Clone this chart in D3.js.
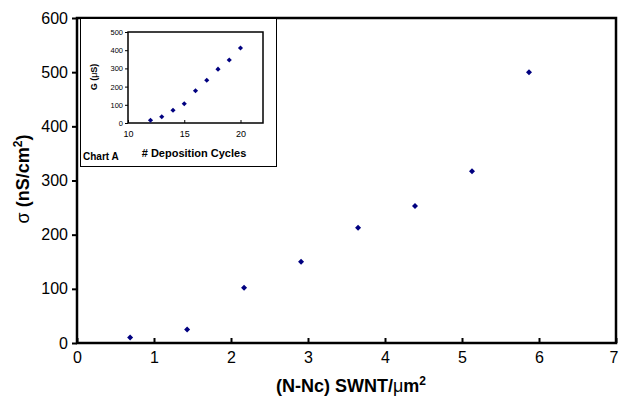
<!DOCTYPE html>
<meta charset="utf-8">
<script src="https://d3js.org/d3.v7.min.js"></script>
<style>
  body { margin: 0; background: #fff; }
  text { font-family: "Liberation Sans", Arial, sans-serif; }
</style>
<div id="chart"></div>
<script>
// main chart data
var density = [0.69, 1.43, 2.17, 2.91, 3.65, 4.39, 5.13, 5.87];
var sigma = [10, 25, 102, 150, 213, 253, 317, 500];
var xTicks = [0, 1, 2, 3, 4, 5, 6, 7];
var yTicks = [0, 100, 200, 300, 400, 500, 600];

// inset (Chart A) data
var cycles = [12, 13, 14, 15, 16, 17, 18, 19, 20];
var conductance = [15, 34, 70, 106, 177, 235, 296, 346, 412];
var insetXTicks = [10, 15, 20];
var insetYTicks = [0, 100, 200, 300, 400, 500];

var W = 619, H = 398;
var svg = d3.select("#chart").append("svg").attr("width", W).attr("height", H);

var x = d3.scaleLinear().domain([0, 7]).range([77, 616]);
var y = d3.scaleLinear().domain([0, 600]).range([343, 18]);

// x axis, ticks pointing up
var gx = svg.append("g").attr("transform", "translate(0," + y(0) + ")")
  .call(d3.axisBottom(x).tickValues(xTicks).tickSize(-5).tickPadding(9).tickFormat(d3.format("d")));
gx.select(".domain").remove();
gx.selectAll(".tick line").attr("stroke", "#000").attr("stroke-width", 2);
gx.selectAll("text").attr("font-size", 16).attr("fill", "#000");
// last label sits flush with the frame, as in the original
gx.selectAll("text").filter(function(d) { return d === 7; })
  .attr("text-anchor", "end").attr("x", 2);

// y axis, ticks pointing left
var gy = svg.append("g").attr("transform", "translate(" + x(0) + ",0)")
  .call(d3.axisLeft(y).tickValues(yTicks).tickSize(5).tickPadding(4));
gy.select(".domain").remove();
gy.selectAll(".tick line").attr("stroke", "#000").attr("stroke-width", 2);
gy.selectAll("text").attr("font-size", 16).attr("fill", "#000");

// plot frame
svg.append("rect")
  .attr("x", x(0)).attr("y", y(600))
  .attr("width", x(7) - x(0)).attr("height", y(0) - y(600))
  .attr("fill", "none").attr("stroke", "#000").attr("stroke-width", 2.5);

var marker = d3.symbol().type(d3.symbolSquare).size(18);

svg.selectAll(".pt").data(density).enter().append("path")
  .attr("class", "pt")
  .attr("d", marker)
  .attr("transform", function(d, i) { return "translate(" + x(d) + "," + y(sigma[i]) + ") rotate(45)"; })
  .attr("fill", "#000080");

// axis titles
svg.append("text")
  .attr("x", 351).attr("y", 392)
  .attr("text-anchor", "middle").attr("font-size", 18).attr("font-weight", "bold")
  .html('(N-Nc) SWNT/<tspan font-weight="normal">\u03bc</tspan>m<tspan dy="-7" font-size="12">2</tspan>');

svg.append("text")
  .attr("transform", "translate(29,179) rotate(-90)")
  .attr("text-anchor", "middle").attr("font-size", 18).attr("font-weight", "bold")
  .html('<tspan font-weight="normal">\u03c3</tspan> (nS/cm<tspan dy="-7" font-size="12">2</tspan><tspan dy="7">)</tspan>');

// ---- inset ----
svg.append("rect")
  .attr("x", 80.5).attr("y", 18.5).attr("width", 196).attr("height", 148)
  .attr("fill", "#fff").attr("stroke", "#000").attr("stroke-width", 1);

var ix = d3.scaleLinear().domain([10, 22]).range([128, 263]);
var iy = d3.scaleLinear().domain([0, 500]).range([123, 32]);

var igx = svg.append("g").attr("transform", "translate(0," + iy(0) + ")")
  .call(d3.axisBottom(ix).tickValues(insetXTicks).tickSize(-3).tickPadding(8));
igx.select(".domain").remove();
igx.selectAll(".tick line").attr("stroke", "#000");
igx.selectAll("text").attr("font-size", 9).attr("fill", "#000");

var igy = svg.append("g").attr("transform", "translate(" + ix(10) + ",0)")
  .call(d3.axisLeft(iy).tickValues(insetYTicks).tickSize(3).tickPadding(2));
igy.select(".domain").remove();
igy.selectAll(".tick line").attr("stroke", "#000");
igy.selectAll("text").attr("font-size", 7.5).attr("fill", "#000");

svg.append("rect")
  .attr("x", ix(10)).attr("y", iy(500))
  .attr("width", ix(22) - ix(10)).attr("height", iy(0) - iy(500))
  .attr("fill", "none").attr("stroke", "#000").attr("stroke-width", 1.5);

svg.selectAll(".ipt").data(cycles).enter().append("path")
  .attr("class", "ipt")
  .attr("d", d3.symbol().type(d3.symbolSquare).size(13))
  .attr("transform", function(d, i) { return "translate(" + ix(d) + "," + iy(conductance[i]) + ") rotate(45)"; })
  .attr("fill", "#000080");

svg.append("text")
  .attr("x", 194).attr("y", 157)
  .attr("text-anchor", "middle").attr("font-size", 11).attr("font-weight", "bold")
  .text("# Deposition Cycles");

svg.append("text")
  .attr("transform", "translate(97,77) rotate(-90)")
  .attr("text-anchor", "middle").attr("font-size", 9).attr("font-weight", "bold")
  .html('G (<tspan font-weight="normal">\u03bc</tspan>S)');

svg.append("text")
  .attr("x", 83).attr("y", 160)
  .attr("font-size", 10).attr("font-weight", "bold")
  .text("Chart A");
</script>
